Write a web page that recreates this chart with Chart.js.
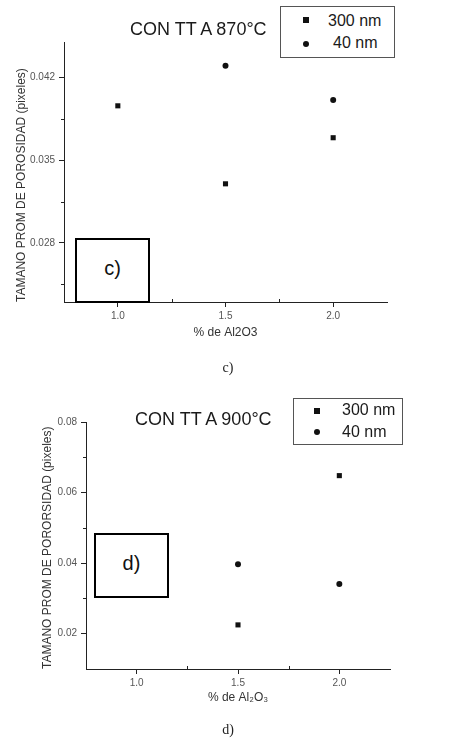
<!DOCTYPE html>
<html>
<head>
<meta charset="utf-8">
<script src="https://cdn.jsdelivr.net/npm/chart.js@4.4.1/dist/chart.umd.min.js"></script>
<style>
  body { margin: 0; background: #fff; }
  #page { position: relative; width: 474px; height: 740px; overflow: hidden; font-family: "Liberation Sans", Arial, sans-serif; }
  canvas { position: absolute; left: 0; }
  .title { position: absolute; font-size: 18px; line-height: 18px; color: #1a1a1a; white-space: nowrap; }
  .legend { position: absolute; border: 1px solid #555; background: #fff; }
  .leg-text { position: absolute; font-size: 16px; line-height: 16px; color: #1a1a1a; white-space: nowrap; }
  .sq { position: absolute; width: 6px; height: 6px; background: #111; }
  .dot { position: absolute; width: 6px; height: 6px; border-radius: 50%; background: #111; }
  .tag { position: absolute; border: 2px solid #000; background: #fff; box-sizing: border-box;
         display: flex; align-items: center; justify-content: center; font-size: 20px; padding-bottom: 5px; color: #111; }
  .caption { position: absolute; width: 40px; text-align: center; font-family: "Liberation Serif", "DejaVu Serif", serif;
             font-size: 14px; line-height: 14px; color: #222; }
</style>
</head>
<body>
<div id="page">
  <canvas id="chartC" width="474" height="370" style="top:0"></canvas>
  <canvas id="chartD" width="474" height="370" style="top:370px"></canvas>

  <div class="title" style="left:130px; top:20px">CON TT A 870°C</div>
  <div class="legend" style="left:280px; top:6px; width:113px; height:50px"></div>
  <div class="sq" style="left:303px; top:17px"></div>
  <div class="leg-text" style="left:328px; top:13px">300 nm</div>
  <div class="dot" style="left:303px; top:41px"></div>
  <div class="leg-text" style="left:333px; top:35px">40 nm</div>
  <div class="tag" style="left:75px; top:238px; width:75px; height:65px">c)</div>
  <div class="caption" style="left:208px; top:361px">c)</div>

  <div class="title" style="left:135px; top:410px">CON TT A 900°C</div>
  <div class="legend" style="left:293px; top:398px; width:108px; height:45px"></div>
  <div class="sq" style="left:314px; top:408px"></div>
  <div class="leg-text" style="left:342px; top:402px">300 nm</div>
  <div class="dot" style="left:314px; top:429px"></div>
  <div class="leg-text" style="left:342px; top:424px">40 nm</div>
  <div class="tag" style="left:94px; top:533px; width:75px; height:65px">d)</div>
  <div class="caption" style="left:208px; top:723px">d)</div>
</div>

<script>
// chart c) - con TT a 870°C
const xC300 = [1.0, 1.5, 2.0];
const yC300 = [0.0396, 0.0330, 0.0369];
const xC40 = [1.5, 2.0];
const yC40 = [0.0430, 0.0401];
const yTicksC = [0.028, 0.035, 0.042];
const yMinorC = [0.0245, 0.0315, 0.0385];

// chart d) - con TT a 900°C
const xD300 = [1.5, 2.0];
const yD300 = [0.0225, 0.0648];
const xD40 = [1.5, 2.0];
const yD40 = [0.0397, 0.0341];
const yTicksD = [0.02, 0.04, 0.06, 0.08];
const yMinorD = [0.03, 0.05, 0.07];

const xTicks = [1.0, 1.5, 2.0];
const xMinor = [1.25, 1.75];

const toPoints = (xs, ys) => xs.map((x, i) => ({ x: x, y: ys[i] }));

// small minor tick marks, Origin style
const minorTicks = {
  id: 'minorTicks',
  afterDraw(chart, args, opts) {
    const { ctx, scales: { x, y } } = chart;
    ctx.save();
    ctx.strokeStyle = '#222';
    ctx.lineWidth = 1;
    ctx.beginPath();
    (opts.x || []).forEach(v => {
      const px = Math.round(x.getPixelForValue(v)) + 0.5;
      ctx.moveTo(px, x.top);
      ctx.lineTo(px, x.top - 3);
    });
    (opts.y || []).forEach(v => {
      const py = Math.round(y.getPixelForValue(v)) + 0.5;
      ctx.moveTo(y.right, py);
      ctx.lineTo(y.right - 3, py);
    });
    ctx.stroke();
    ctx.restore();
  }
};

const makeChart = (id, cfg) => {
  const axisLine = { display: true, color: '#222', width: 1 };
  const grid = { drawOnChartArea: false, drawTicks: true, tickLength: 5, color: '#222' };
  return new Chart(document.getElementById(id), {
    type: 'scatter',
    data: {
      datasets: [
        { label: '300 nm', data: cfg.squares, pointStyle: 'rect', pointRadius: 3.6,
          backgroundColor: '#111', borderColor: '#111', borderWidth: 0 },
        { label: '40 nm', data: cfg.circles, pointStyle: 'circle', pointRadius: 3,
          backgroundColor: '#111', borderColor: '#111', borderWidth: 0 }
      ]
    },
    options: {
      responsive: false,
      animation: false,
      layout: { padding: cfg.padding },
      plugins: {
        legend: { display: false },
        tooltip: { enabled: false },
        minorTicks: { x: xMinor, y: cfg.yMinor }
      },
      scales: {
        x: {
          type: 'linear', min: 0.75, max: 2.25,
          border: axisLine, grid: grid,
          afterFit: s => { s.height = cfg.xHeight; },
          afterBuildTicks: s => { s.ticks = xTicks.map(v => ({ value: v })); },
          ticks: { color: '#555', font: { size: 10, family: 'Liberation Sans' }, padding: 3,
                   maxRotation: 0, callback: v => v.toFixed(1) },
          title: { display: true, text: cfg.xTitle, color: '#333',
                   font: { size: 12, family: 'Liberation Sans' }, padding: { top: 4, bottom: cfg.xTitlePad } }
        },
        y: {
          type: 'linear', min: cfg.yMin, max: cfg.yMax,
          border: axisLine, grid: grid,
          afterFit: s => { s.width = cfg.yWidth; },
          afterBuildTicks: s => { s.ticks = cfg.yTicks.map(v => ({ value: v })); },
          ticks: { color: '#555', font: { size: 10, family: 'Liberation Sans' }, padding: 4,
                   callback: v => v.toFixed(cfg.yDigits) },
          title: { display: true, text: cfg.yTitle, color: '#333', align: 'start',
                   font: { size: 12, family: 'Liberation Sans' }, padding: { top: cfg.yTitlePad, bottom: 4 } }
        }
      }
    },
    plugins: [minorTicks]
  });
};

makeChart('chartC', {
  squares: toPoints(xC300, yC300),
  circles: toPoints(xC40, yC40),
  padding: { top: 42, right: 87, left: 0, bottom: 0 },
  xHeight: 68, yWidth: 64,
  yMin: 0.023, yMax: 0.045, yTicks: yTicksC, yMinor: yMinorC, yDigits: 3,
  xTitle: '% de Al2O3', xTitlePad: 30,
  yTitle: 'TAMANO PROM DE POROSIDAD (pixeles)', yTitlePad: 14
});

makeChart('chartD', {
  squares: toPoints(xD300, yD300),
  circles: toPoints(xD40, yD40),
  padding: { top: 52, right: 84, left: 0, bottom: 0 },
  xHeight: 71, yWidth: 86,
  yMin: 0.01, yMax: 0.08, yTicks: yTicksD, yMinor: yMinorD, yDigits: 2,
  xTitle: '% de Al₂O₃', xTitlePad: 35,
  yTitle: 'TAMANO PROM DE PORORSIDAD (pixeles)', yTitlePad: 40
});
</script>
</body>
</html>
